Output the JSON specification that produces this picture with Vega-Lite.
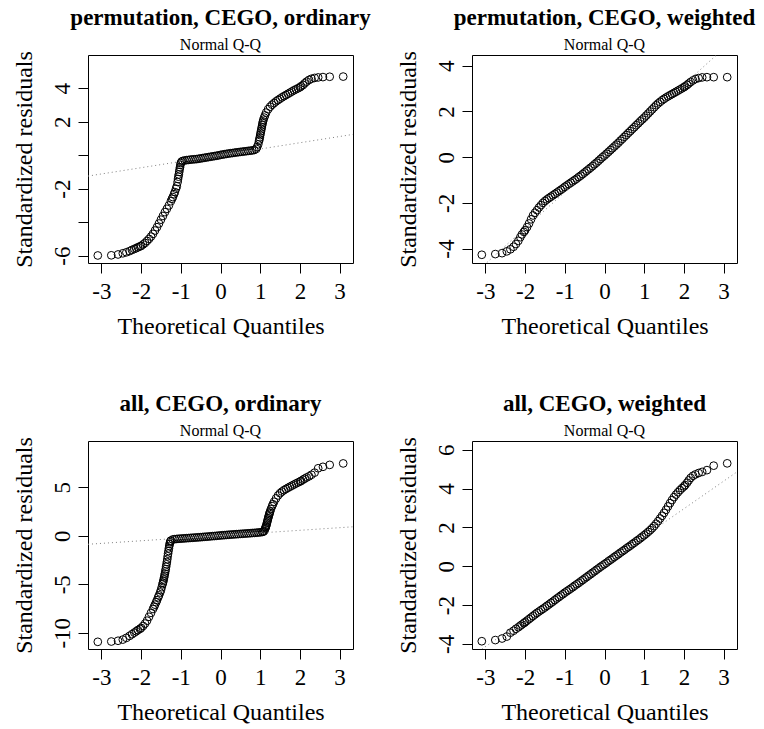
{
  "$schema": "https://vega.github.io/schema/vega-lite/v6.json",
  "background": "white",
  "padding": {"left": 11, "top": 6, "right": 0, "bottom": 0},
  "bounds": "flush",
  "columns": 2,
  "spacing": {"row": 178, "column": 119},
  "config": {
    "font": "Liberation Serif",
    "view": {"stroke": "#000", "strokeWidth": 1},
    "axis": {"domain": false, "grid": false, "tickColor": "#000", "tickSize": 10, "tickWidth": 1, "labelFont": "Liberation Serif", "labelFontSize": 23, "labelColor": "#000", "titleFont": "Liberation Serif", "titleFontSize": 24, "titleFontWeight": "normal", "titleColor": "#000", "labelOverlap": false},
    "axisX": {"labelPadding": 7, "titlePadding": 11, "labelAngle": 0, "labelFlush": false},
    "axisY": {"labelAngle": -90, "labelAlign": "center", "labelBaseline": "bottom", "labelPadding": 4, "titlePadding": 15, "labelFlush": false},
    "title": {"font": "Liberation Serif", "fontSize": 23, "fontWeight": "bold", "color": "#000", "subtitleFont": "Liberation Serif", "subtitleFontSize": 16, "subtitleColor": "#000", "subtitlePadding": 7, "anchor": "middle", "frame": "group", "offset": -2}
  },
  "datasets": {
    "p1": [{"x":-3.09,"y":-5.99},{"x":-2.75,"y":-5.98},{"x":-2.58,"y":-5.93},{"x":-2.46,"y":-5.86},{"x":-2.37,"y":-5.8},{"x":-2.29,"y":-5.73},{"x":-2.23,"y":-5.66},{"x":-2.17,"y":-5.6},{"x":-2.12,"y":-5.55},{"x":-2.08,"y":-5.5},{"x":-2.03,"y":-5.45},{"x":-2.0,"y":-5.42},{"x":-1.95,"y":-5.33},{"x":-1.9,"y":-5.24},{"x":-1.85,"y":-5.12},{"x":-1.8,"y":-5.0},{"x":-1.75,"y":-4.86},{"x":-1.7,"y":-4.7},{"x":-1.65,"y":-4.5},{"x":-1.6,"y":-4.3},{"x":-1.55,"y":-4.08},{"x":-1.5,"y":-3.85},{"x":-1.45,"y":-3.63},{"x":-1.4,"y":-3.4},{"x":-1.35,"y":-3.2},{"x":-1.3,"y":-3.0},{"x":-1.25,"y":-2.75},{"x":-1.22,"y":-2.6},{"x":-1.2,"y":-2.5},{"x":-1.17,"y":-2.33},{"x":-1.15,"y":-2.2},{"x":-1.12,"y":-2.0},{"x":-1.1,"y":-1.85},{"x":-1.08,"y":-1.6},{"x":-1.07,"y":-1.42},{"x":-1.06,"y":-1.28},{"x":-1.05,"y":-1.15},{"x":-1.04,"y":-1.0},{"x":-1.03,"y":-0.85},{"x":-1.02,"y":-0.72},{"x":-1.01,"y":-0.58},{"x":-1.0,"y":-0.47},{"x":-0.98,"y":-0.38},{"x":-0.95,"y":-0.34},{"x":-0.9,"y":-0.31},{"x":-0.85,"y":-0.29},{"x":-0.8,"y":-0.28},{"x":-0.75,"y":-0.26},{"x":-0.7,"y":-0.25},{"x":-0.65,"y":-0.24},{"x":-0.6,"y":-0.23},{"x":-0.55,"y":-0.21},{"x":-0.5,"y":-0.19},{"x":-0.45,"y":-0.17},{"x":-0.4,"y":-0.15},{"x":-0.35,"y":-0.13},{"x":-0.3,"y":-0.11},{"x":-0.25,"y":-0.09},{"x":-0.2,"y":-0.07},{"x":-0.15,"y":-0.05},{"x":-0.1,"y":-0.03},{"x":-0.05,"y":-0.01},{"x":0.0,"y":0.02},{"x":0.05,"y":0.04},{"x":0.1,"y":0.06},{"x":0.15,"y":0.08},{"x":0.2,"y":0.1},{"x":0.25,"y":0.12},{"x":0.3,"y":0.13},{"x":0.35,"y":0.15},{"x":0.4,"y":0.17},{"x":0.45,"y":0.18},{"x":0.5,"y":0.2},{"x":0.55,"y":0.21},{"x":0.6,"y":0.23},{"x":0.65,"y":0.24},{"x":0.7,"y":0.26},{"x":0.75,"y":0.27},{"x":0.8,"y":0.29},{"x":0.85,"y":0.31},{"x":0.9,"y":0.38},{"x":0.92,"y":0.48},{"x":0.95,"y":0.65},{"x":0.97,"y":0.85},{"x":0.98,"y":0.95},{"x":0.99,"y":1.07},{"x":1.0,"y":1.2},{"x":1.01,"y":1.32},{"x":1.02,"y":1.44},{"x":1.03,"y":1.56},{"x":1.04,"y":1.68},{"x":1.05,"y":1.8},{"x":1.06,"y":1.92},{"x":1.07,"y":2.02},{"x":1.08,"y":2.12},{"x":1.1,"y":2.25},{"x":1.12,"y":2.38},{"x":1.15,"y":2.55},{"x":1.2,"y":2.75},{"x":1.25,"y":2.9},{"x":1.3,"y":3.02},{"x":1.35,"y":3.12},{"x":1.4,"y":3.22},{"x":1.45,"y":3.3},{"x":1.5,"y":3.38},{"x":1.55,"y":3.46},{"x":1.6,"y":3.53},{"x":1.65,"y":3.6},{"x":1.7,"y":3.67},{"x":1.75,"y":3.74},{"x":1.8,"y":3.81},{"x":1.85,"y":3.88},{"x":1.9,"y":3.94},{"x":1.95,"y":4.0},{"x":2.0,"y":4.06},{"x":2.03,"y":4.12},{"x":2.08,"y":4.2},{"x":2.12,"y":4.3},{"x":2.17,"y":4.4},{"x":2.23,"y":4.5},{"x":2.29,"y":4.57},{"x":2.37,"y":4.62},{"x":2.46,"y":4.65},{"x":2.58,"y":4.67},{"x":2.75,"y":4.69},{"x":3.09,"y":4.7}],
    "p2": [{"x":-3.09,"y":-4.27},{"x":-2.75,"y":-4.24},{"x":-2.58,"y":-4.2},{"x":-2.46,"y":-4.12},{"x":-2.37,"y":-4.03},{"x":-2.29,"y":-3.92},{"x":-2.23,"y":-3.8},{"x":-2.17,"y":-3.66},{"x":-2.12,"y":-3.5},{"x":-2.08,"y":-3.38},{"x":-2.03,"y":-3.27},{"x":-2.0,"y":-3.2},{"x":-1.95,"y":-3.06},{"x":-1.9,"y":-2.9},{"x":-1.85,"y":-2.72},{"x":-1.8,"y":-2.55},{"x":-1.75,"y":-2.43},{"x":-1.7,"y":-2.32},{"x":-1.65,"y":-2.2},{"x":-1.6,"y":-2.1},{"x":-1.55,"y":-2.0},{"x":-1.5,"y":-1.92},{"x":-1.45,"y":-1.85},{"x":-1.4,"y":-1.79},{"x":-1.35,"y":-1.73},{"x":-1.3,"y":-1.67},{"x":-1.25,"y":-1.61},{"x":-1.2,"y":-1.55},{"x":-1.15,"y":-1.49},{"x":-1.1,"y":-1.43},{"x":-1.05,"y":-1.37},{"x":-1.0,"y":-1.3},{"x":-0.95,"y":-1.24},{"x":-0.9,"y":-1.18},{"x":-0.85,"y":-1.12},{"x":-0.8,"y":-1.06},{"x":-0.75,"y":-1.0},{"x":-0.7,"y":-0.94},{"x":-0.65,"y":-0.87},{"x":-0.6,"y":-0.81},{"x":-0.55,"y":-0.74},{"x":-0.5,"y":-0.67},{"x":-0.45,"y":-0.6},{"x":-0.4,"y":-0.53},{"x":-0.35,"y":-0.46},{"x":-0.3,"y":-0.39},{"x":-0.25,"y":-0.31},{"x":-0.2,"y":-0.24},{"x":-0.15,"y":-0.16},{"x":-0.1,"y":-0.08},{"x":-0.05,"y":0.0},{"x":0.0,"y":0.07},{"x":0.05,"y":0.15},{"x":0.1,"y":0.23},{"x":0.15,"y":0.31},{"x":0.2,"y":0.39},{"x":0.25,"y":0.47},{"x":0.3,"y":0.55},{"x":0.35,"y":0.63},{"x":0.4,"y":0.72},{"x":0.45,"y":0.8},{"x":0.5,"y":0.89},{"x":0.55,"y":0.97},{"x":0.6,"y":1.06},{"x":0.65,"y":1.14},{"x":0.7,"y":1.23},{"x":0.75,"y":1.31},{"x":0.8,"y":1.4},{"x":0.85,"y":1.48},{"x":0.9,"y":1.57},{"x":0.95,"y":1.65},{"x":1.0,"y":1.73},{"x":1.05,"y":1.82},{"x":1.1,"y":1.91},{"x":1.15,"y":2.0},{"x":1.2,"y":2.09},{"x":1.25,"y":2.18},{"x":1.3,"y":2.27},{"x":1.35,"y":2.35},{"x":1.4,"y":2.42},{"x":1.45,"y":2.49},{"x":1.5,"y":2.55},{"x":1.55,"y":2.61},{"x":1.6,"y":2.66},{"x":1.65,"y":2.71},{"x":1.7,"y":2.76},{"x":1.75,"y":2.81},{"x":1.8,"y":2.86},{"x":1.85,"y":2.91},{"x":1.9,"y":2.96},{"x":1.95,"y":3.01},{"x":2.0,"y":3.06},{"x":2.03,"y":3.1},{"x":2.08,"y":3.16},{"x":2.12,"y":3.22},{"x":2.17,"y":3.29},{"x":2.23,"y":3.36},{"x":2.29,"y":3.42},{"x":2.37,"y":3.46},{"x":2.46,"y":3.49},{"x":2.58,"y":3.5},{"x":2.75,"y":3.5},{"x":3.09,"y":3.5}],
    "p3": [{"x":-3.09,"y":-10.93},{"x":-2.75,"y":-10.9},{"x":-2.58,"y":-10.82},{"x":-2.46,"y":-10.7},{"x":-2.37,"y":-10.52},{"x":-2.29,"y":-10.32},{"x":-2.23,"y":-10.15},{"x":-2.17,"y":-9.98},{"x":-2.12,"y":-9.84},{"x":-2.08,"y":-9.72},{"x":-2.03,"y":-9.6},{"x":-2.0,"y":-9.5},{"x":-1.95,"y":-9.3},{"x":-1.9,"y":-9.05},{"x":-1.85,"y":-8.75},{"x":-1.8,"y":-8.35},{"x":-1.75,"y":-7.95},{"x":-1.7,"y":-7.55},{"x":-1.67,"y":-7.3},{"x":-1.65,"y":-7.1},{"x":-1.62,"y":-6.85},{"x":-1.6,"y":-6.65},{"x":-1.57,"y":-6.35},{"x":-1.55,"y":-6.15},{"x":-1.52,"y":-5.85},{"x":-1.5,"y":-5.6},{"x":-1.48,"y":-5.3},{"x":-1.46,"y":-5.0},{"x":-1.45,"y":-4.85},{"x":-1.44,"y":-4.68},{"x":-1.43,"y":-4.5},{"x":-1.42,"y":-4.3},{"x":-1.41,"y":-4.1},{"x":-1.4,"y":-3.9},{"x":-1.39,"y":-3.68},{"x":-1.38,"y":-3.45},{"x":-1.37,"y":-3.2},{"x":-1.36,"y":-2.95},{"x":-1.35,"y":-2.7},{"x":-1.34,"y":-2.42},{"x":-1.33,"y":-2.12},{"x":-1.32,"y":-1.84},{"x":-1.31,"y":-1.57},{"x":-1.3,"y":-1.3},{"x":-1.29,"y":-1.05},{"x":-1.28,"y":-0.85},{"x":-1.27,"y":-0.68},{"x":-1.26,"y":-0.57},{"x":-1.25,"y":-0.5},{"x":-1.2,"y":-0.38},{"x":-1.15,"y":-0.35},{"x":-1.1,"y":-0.33},{"x":-1.05,"y":-0.31},{"x":-1.0,"y":-0.3},{"x":-0.95,"y":-0.28},{"x":-0.9,"y":-0.27},{"x":-0.85,"y":-0.25},{"x":-0.8,"y":-0.24},{"x":-0.75,"y":-0.22},{"x":-0.7,"y":-0.21},{"x":-0.65,"y":-0.19},{"x":-0.6,"y":-0.18},{"x":-0.55,"y":-0.16},{"x":-0.5,"y":-0.15},{"x":-0.45,"y":-0.13},{"x":-0.4,"y":-0.11},{"x":-0.35,"y":-0.1},{"x":-0.3,"y":-0.08},{"x":-0.25,"y":-0.06},{"x":-0.2,"y":-0.04},{"x":-0.15,"y":-0.03},{"x":-0.1,"y":-0.01},{"x":-0.05,"y":0.01},{"x":0.0,"y":0.03},{"x":0.05,"y":0.05},{"x":0.1,"y":0.06},{"x":0.15,"y":0.08},{"x":0.2,"y":0.1},{"x":0.25,"y":0.11},{"x":0.3,"y":0.13},{"x":0.35,"y":0.14},{"x":0.4,"y":0.16},{"x":0.45,"y":0.17},{"x":0.5,"y":0.19},{"x":0.55,"y":0.2},{"x":0.6,"y":0.22},{"x":0.65,"y":0.23},{"x":0.7,"y":0.25},{"x":0.75,"y":0.26},{"x":0.8,"y":0.28},{"x":0.85,"y":0.29},{"x":0.9,"y":0.31},{"x":0.95,"y":0.33},{"x":1.0,"y":0.35},{"x":1.05,"y":0.38},{"x":1.08,"y":0.42},{"x":1.1,"y":0.5},{"x":1.12,"y":0.68},{"x":1.13,"y":0.8},{"x":1.14,"y":0.9},{"x":1.15,"y":1.0},{"x":1.16,"y":1.15},{"x":1.17,"y":1.32},{"x":1.18,"y":1.48},{"x":1.19,"y":1.64},{"x":1.2,"y":1.8},{"x":1.21,"y":1.95},{"x":1.22,"y":2.1},{"x":1.23,"y":2.24},{"x":1.24,"y":2.37},{"x":1.25,"y":2.5},{"x":1.27,"y":2.75},{"x":1.3,"y":3.05},{"x":1.32,"y":3.25},{"x":1.35,"y":3.5},{"x":1.4,"y":3.85},{"x":1.45,"y":4.15},{"x":1.5,"y":4.38},{"x":1.55,"y":4.55},{"x":1.6,"y":4.7},{"x":1.65,"y":4.82},{"x":1.7,"y":4.94},{"x":1.75,"y":5.05},{"x":1.8,"y":5.16},{"x":1.85,"y":5.27},{"x":1.9,"y":5.38},{"x":1.95,"y":5.48},{"x":2.0,"y":5.58},{"x":2.03,"y":5.65},{"x":2.08,"y":5.78},{"x":2.12,"y":5.88},{"x":2.17,"y":6.0},{"x":2.23,"y":6.12},{"x":2.29,"y":6.28},{"x":2.37,"y":6.5},{"x":2.46,"y":6.95},{"x":2.58,"y":7.1},{"x":2.75,"y":7.3},{"x":3.09,"y":7.45}],
    "p4": [{"x":-3.09,"y":-3.86},{"x":-2.75,"y":-3.8},{"x":-2.58,"y":-3.72},{"x":-2.46,"y":-3.62},{"x":-2.37,"y":-3.42},{"x":-2.29,"y":-3.32},{"x":-2.23,"y":-3.22},{"x":-2.17,"y":-3.14},{"x":-2.12,"y":-3.06},{"x":-2.08,"y":-3.0},{"x":-2.03,"y":-2.93},{"x":-2.0,"y":-2.88},{"x":-1.95,"y":-2.8},{"x":-1.9,"y":-2.72},{"x":-1.85,"y":-2.64},{"x":-1.8,"y":-2.56},{"x":-1.75,"y":-2.48},{"x":-1.7,"y":-2.4},{"x":-1.65,"y":-2.33},{"x":-1.6,"y":-2.26},{"x":-1.55,"y":-2.19},{"x":-1.5,"y":-2.12},{"x":-1.45,"y":-2.04},{"x":-1.4,"y":-1.97},{"x":-1.35,"y":-1.89},{"x":-1.3,"y":-1.82},{"x":-1.25,"y":-1.74},{"x":-1.2,"y":-1.66},{"x":-1.15,"y":-1.59},{"x":-1.1,"y":-1.51},{"x":-1.05,"y":-1.44},{"x":-1.0,"y":-1.36},{"x":-0.95,"y":-1.29},{"x":-0.9,"y":-1.22},{"x":-0.85,"y":-1.15},{"x":-0.8,"y":-1.08},{"x":-0.75,"y":-1.0},{"x":-0.7,"y":-0.93},{"x":-0.65,"y":-0.86},{"x":-0.6,"y":-0.78},{"x":-0.55,"y":-0.71},{"x":-0.5,"y":-0.63},{"x":-0.45,"y":-0.56},{"x":-0.4,"y":-0.48},{"x":-0.35,"y":-0.41},{"x":-0.3,"y":-0.33},{"x":-0.25,"y":-0.26},{"x":-0.2,"y":-0.18},{"x":-0.15,"y":-0.11},{"x":-0.1,"y":-0.03},{"x":-0.05,"y":0.04},{"x":0.0,"y":0.11},{"x":0.05,"y":0.18},{"x":0.1,"y":0.26},{"x":0.15,"y":0.33},{"x":0.2,"y":0.4},{"x":0.25,"y":0.48},{"x":0.3,"y":0.55},{"x":0.35,"y":0.62},{"x":0.4,"y":0.7},{"x":0.45,"y":0.77},{"x":0.5,"y":0.84},{"x":0.55,"y":0.92},{"x":0.6,"y":0.99},{"x":0.65,"y":1.06},{"x":0.7,"y":1.14},{"x":0.75,"y":1.21},{"x":0.8,"y":1.29},{"x":0.85,"y":1.36},{"x":0.9,"y":1.44},{"x":0.95,"y":1.52},{"x":1.0,"y":1.6},{"x":1.05,"y":1.68},{"x":1.1,"y":1.77},{"x":1.15,"y":1.86},{"x":1.2,"y":1.96},{"x":1.25,"y":2.07},{"x":1.3,"y":2.19},{"x":1.35,"y":2.32},{"x":1.4,"y":2.46},{"x":1.45,"y":2.6},{"x":1.5,"y":2.75},{"x":1.55,"y":2.91},{"x":1.6,"y":3.08},{"x":1.65,"y":3.25},{"x":1.7,"y":3.41},{"x":1.75,"y":3.56},{"x":1.8,"y":3.69},{"x":1.85,"y":3.81},{"x":1.9,"y":3.92},{"x":1.95,"y":4.02},{"x":2.0,"y":4.11},{"x":2.03,"y":4.18},{"x":2.08,"y":4.3},{"x":2.12,"y":4.42},{"x":2.17,"y":4.55},{"x":2.23,"y":4.66},{"x":2.29,"y":4.73},{"x":2.37,"y":4.8},{"x":2.46,"y":4.86},{"x":2.58,"y":4.95},{"x":2.75,"y":5.18},{"x":3.09,"y":5.3}],
    "l1": [{"x":-3.337,"y":-1.245},{"x":3.337,"y":1.245}],
    "l2": [{"x":-3.337,"y":-5.2},{"x":3.337,"y":5.28}],
    "l3": [{"x":-3.337,"y":-0.88},{"x":3.337,"y":0.92}],
    "l4": [{"x":-3.337,"y":-4.62},{"x":3.337,"y":4.86}]
  },
  "concat": [
    {
      "title": {"text": "permutation, CEGO, ordinary", "subtitle": "Normal Q-Q"},
      "width": 265, "height": 208,
      "layer": [
        {"data": {"name": "p1"}, "mark": {"type": "point", "shape": "circle", "filled": false, "color": "#000", "size": 60, "strokeWidth": 1, "opacity": 1, "clip": true},
         "encoding": {
           "x": {"field": "x", "type": "quantitative", "scale": {"domain": [-3.337, 3.337], "nice": false, "zero": false}, "axis": {"values": [-3,-2,-1,0,1,2,3], "title": "Theoretical Quantiles", "labelExpr": "datum.value < 0 ? '-' + abs(datum.value) : '' + datum.value"}},
           "y": {"field": "y", "type": "quantitative", "scale": {"domain": [-6.44, 5.99], "nice": false, "zero": false}, "axis": {"values": [-6,-4,-2,0,2,4], "title": "Standardized residuals", "labelExpr": "datum.value == 0 || datum.value == -4 ? '' : (datum.value < 0 ? '-' + abs(datum.value) : '' + datum.value)"}}
         }},
        {"data": {"name": "l1"}, "mark": {"type": "line", "color": "#7f7f7f", "strokeDash": [1, 3], "strokeWidth": 1, "clip": true},
         "encoding": {"x": {"field": "x", "type": "quantitative"}, "y": {"field": "y", "type": "quantitative"}}}
      ]
    },
    {
      "title": {"text": "permutation, CEGO, weighted", "subtitle": "Normal Q-Q"},
      "width": 265, "height": 208,
      "layer": [
        {"data": {"name": "p2"}, "mark": {"type": "point", "shape": "circle", "filled": false, "color": "#000", "size": 60, "strokeWidth": 1, "opacity": 1, "clip": true},
         "encoding": {
           "x": {"field": "x", "type": "quantitative", "scale": {"domain": [-3.337, 3.337], "nice": false, "zero": false}, "axis": {"values": [-3,-2,-1,0,1,2,3], "title": "Theoretical Quantiles", "labelExpr": "datum.value < 0 ? '-' + abs(datum.value) : '' + datum.value"}},
           "y": {"field": "y", "type": "quantitative", "scale": {"domain": [-4.63, 4.47], "nice": false, "zero": false}, "axis": {"values": [-4,-2,0,2,4], "title": "Standardized residuals", "labelExpr": "datum.value < 0 ? '-' + abs(datum.value) : '' + datum.value"}}
         }},
        {"data": {"name": "l2"}, "mark": {"type": "line", "color": "#7f7f7f", "strokeDash": [1, 3], "strokeWidth": 1, "clip": true},
         "encoding": {"x": {"field": "x", "type": "quantitative"}, "y": {"field": "y", "type": "quantitative"}}}
      ]
    },
    {
      "title": {"text": "all, CEGO, ordinary", "subtitle": "Normal Q-Q"},
      "width": 265, "height": 208,
      "layer": [
        {"data": {"name": "p3"}, "mark": {"type": "point", "shape": "circle", "filled": false, "color": "#000", "size": 60, "strokeWidth": 1, "opacity": 1, "clip": true},
         "encoding": {
           "x": {"field": "x", "type": "quantitative", "scale": {"domain": [-3.337, 3.337], "nice": false, "zero": false}, "axis": {"values": [-3,-2,-1,0,1,2,3], "title": "Theoretical Quantiles", "labelExpr": "datum.value < 0 ? '-' + abs(datum.value) : '' + datum.value"}},
           "y": {"field": "y", "type": "quantitative", "scale": {"domain": [-11.67, 9.76], "nice": false, "zero": false}, "axis": {"values": [-10,-5,0,5], "title": "Standardized residuals", "labelExpr": "datum.value < 0 ? '-' + abs(datum.value) : '' + datum.value"}}
         }},
        {"data": {"name": "l3"}, "mark": {"type": "line", "color": "#7f7f7f", "strokeDash": [1, 3], "strokeWidth": 1, "clip": true},
         "encoding": {"x": {"field": "x", "type": "quantitative"}, "y": {"field": "y", "type": "quantitative"}}}
      ]
    },
    {
      "title": {"text": "all, CEGO, weighted", "subtitle": "Normal Q-Q"},
      "width": 265, "height": 208,
      "layer": [
        {"data": {"name": "p4"}, "mark": {"type": "point", "shape": "circle", "filled": false, "color": "#000", "size": 60, "strokeWidth": 1, "opacity": 1, "clip": true},
         "encoding": {
           "x": {"field": "x", "type": "quantitative", "scale": {"domain": [-3.337, 3.337], "nice": false, "zero": false}, "axis": {"values": [-3,-2,-1,0,1,2,3], "title": "Theoretical Quantiles", "labelExpr": "datum.value < 0 ? '-' + abs(datum.value) : '' + datum.value"}},
           "y": {"field": "y", "type": "quantitative", "scale": {"domain": [-4.26, 6.45], "nice": false, "zero": false}, "axis": {"values": [-4,-2,0,2,4,6], "title": "Standardized residuals", "labelExpr": "datum.value < 0 ? '-' + abs(datum.value) : '' + datum.value"}}
         }},
        {"data": {"name": "l4"}, "mark": {"type": "line", "color": "#7f7f7f", "strokeDash": [1, 3], "strokeWidth": 1, "clip": true},
         "encoding": {"x": {"field": "x", "type": "quantitative"}, "y": {"field": "y", "type": "quantitative"}}}
      ]
    }
  ]
}
